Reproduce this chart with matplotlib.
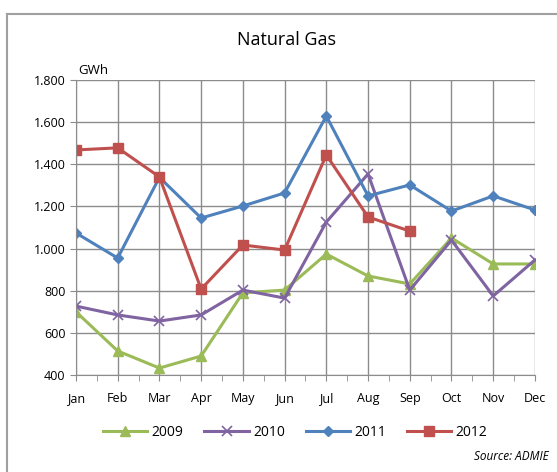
import matplotlib
matplotlib.use("Agg")
import matplotlib.pyplot as plt
from matplotlib.ticker import FuncFormatter, MultipleLocator
from matplotlib.lines import Line2D

months = ["Jan", "Feb", "Mar", "Apr", "May", "Jun", "Jul", "Aug", "Sep", "Oct", "Nov", "Dec"]
s2009 = [700, 514, 433, 490, 790, 803, 974, 870, 832, 1050, 927, 927]
s2010 = [727, 685, 656, 685, 803, 765, 1126, 1354, 803, 1040, 775, 946]
s2011 = [1074, 955, 1338, 1145, 1202, 1264, 1629, 1250, 1302, 1178, 1250, 1183]
s2012 = [1468, 1478, 1340, 808, 1017, 993, 1444, 1150, 1083]

plt.rcParams['font.family'] = ['Open Sans', 'DejaVu Sans']

fig = plt.figure(figsize=(5.57, 4.72), dpi=100)
ax = fig.add_axes([0.1364, 0.2055, 0.824, 0.625])

x = list(range(len(months)))
ax.plot(x, s2009, color="#9BBB59", lw=2.2, marker="^", ms=7, label="2009")
ax.plot(x, s2010, color="#8064A2", lw=2.2, marker="x", ms=7, mew=1.2, label="2010")
ax.plot(x, s2011, color="#4F81BD", lw=2.2, marker="D", ms=5, label="2011")
ax.plot(x[:len(s2012)], s2012, color="#C0504D", lw=2.2, marker="s", ms=7, label="2012")

ax.set_xlim(0, 11)
ax.set_ylim(400, 1800)
ax.yaxis.set_major_locator(MultipleLocator(200))
ax.yaxis.set_major_formatter(FuncFormatter(lambda v, p: f"{int(v):,}".replace(",", ".")))
ax.set_xticks(x)
ax.set_xticklabels(months)
ax.set_xticks([i + 0.5 for i in range(11)], minor=True)
ax.grid(True, which="major", color="#8c8c8c", lw=1)
ax.set_axisbelow(True)
for s in ["top", "right"]:
    ax.spines[s].set_visible(False)
for s in ["left", "bottom"]:
    ax.spines[s].set_color("#8c8c8c")
ax.tick_params(axis="x", which="both", direction="out", length=4, color="#8c8c8c", labelsize=9, pad=8)
ax.tick_params(axis="y", direction="out", length=4, color="#8c8c8c", labelsize=9)

fig.text(0.514, 0.915, "Natural Gas", ha="center", va="center", fontsize=13)
fig.text(0.14, 0.85, "GWh", ha="left", va="center", fontsize=9.5)

handles, labels = ax.get_legend_handles_labels()
fig.legend(handles, labels, loc="center", bbox_to_anchor=(0.53, 0.083), ncol=4,
           frameon=False, fontsize=10, handlelength=3.2, columnspacing=1.5, handletextpad=0.3)
fig.text(0.985, 0.032, "Source: ADMIE", ha="right", va="center", fontsize=8.5, style="italic")

top_y = 1 - 14 / 472
left_x = 7 / 557
fig.lines.append(Line2D([left_x, 1.0], [top_y, top_y], transform=fig.transFigure,
                        color="#a0a0a0", lw=1.5))
fig.lines.append(Line2D([left_x, left_x], [0.0, top_y], transform=fig.transFigure,
                        color="#a0a0a0", lw=1.5))

fig.savefig("out.png", dpi=100)
